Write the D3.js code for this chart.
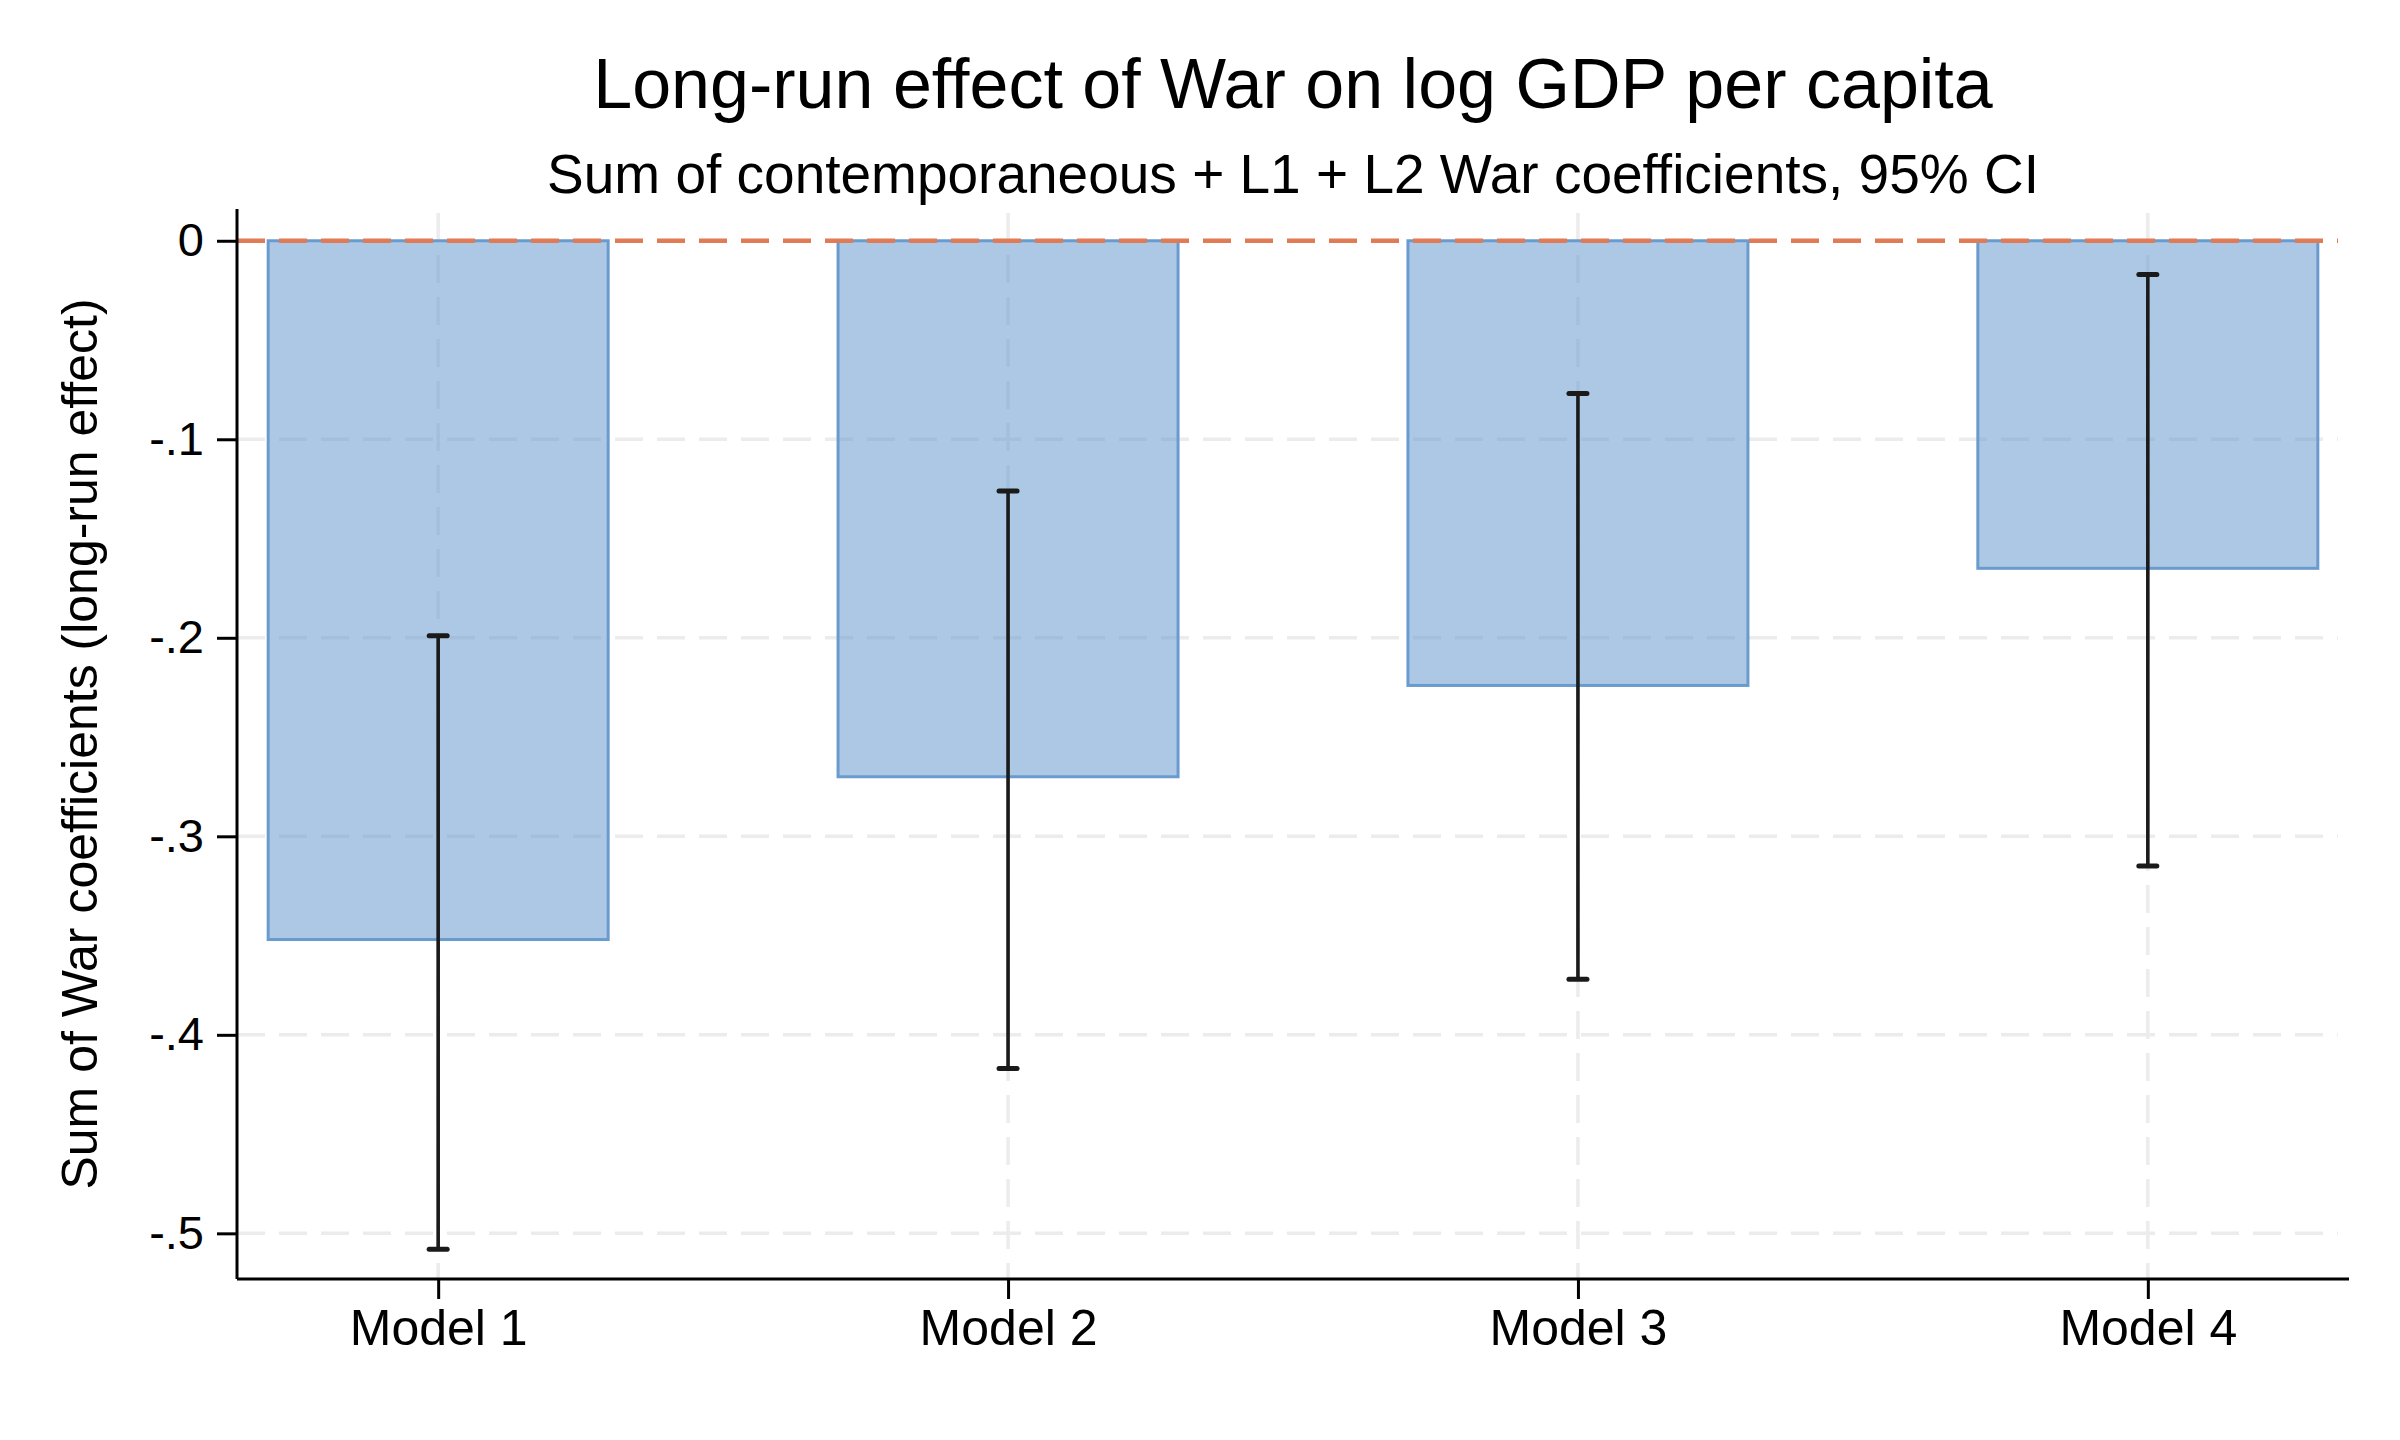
<!DOCTYPE html>
<html>
<head>
<meta charset="utf-8">
<script src="https://cdn.jsdelivr.net/npm/d3@7"></script>
<style>
  html, body { margin: 0; padding: 0; background: #ffffff; }
  text { font-family: "Liberation Sans", Arial, Helvetica, sans-serif; fill: #000000; }
</style>
</head>
<body>
<div id="chart"></div>
<script>
// chart data
const models = ["Model 1", "Model 2", "Model 3", "Model 4"];
const coefs = [-0.352, -0.270, -0.224, -0.165];
const ciLow = [-0.508, -0.417, -0.372, -0.315];
const ciHigh = [-0.199, -0.126, -0.077, -0.017];
const yTicks = [0, -0.1, -0.2, -0.3, -0.4, -0.5];

const titleText = "Long-run effect of War on log GDP per capita";
const subtitleText = "Sum of contemporaneous + L1 + L2 War coefficients, 95% CI";
const yLabelText = "Sum of War coefficients (long-run effect)";

const width = 2400, height = 1440;
const margin = { top: 209, right: 51, bottom: 161, left: 237 };
const plotW = width - margin.left - margin.right;
const plotH = height - margin.top - margin.bottom;

const svg = d3.select("#chart")
    .append("svg")
    .attr("width", width)
    .attr("height", height);

const g = svg.append("g")
    .attr("transform", `translate(${margin.left},${margin.top})`);

const x = d3.scalePoint()
    .domain(models)
    .range([0, plotW])
    .padding(0.353);

const y = d3.scaleLinear()
    .domain([-0.523, 0.016])
    .range([plotH, 0]);

const barW = 340;
const gridEnd = plotW - 11;

// gridlines (behind bars)
g.append("g").selectAll("line.hgrid")
    .data(yTicks.filter(d => d !== 0))
    .join("line")
    .attr("x1", 0)
    .attr("x2", gridEnd)
    .attr("y1", d => y(d))
    .attr("y2", d => y(d))
    .attr("stroke", "#ececec")
    .attr("stroke-width", 3.5)
    .attr("stroke-dasharray", "28,14");

g.append("g").selectAll("line.vgrid")
    .data(models)
    .join("line")
    .attr("x1", d => x(d))
    .attr("x2", d => x(d))
    .attr("y1", 4)
    .attr("y2", plotH)
    .attr("stroke", "#ececec")
    .attr("stroke-width", 3.5)
    .attr("stroke-dasharray", "28,14");

// bars
g.append("g").selectAll("rect")
    .data(models)
    .join("rect")
    .attr("x", d => x(d) - barW / 2)
    .attr("width", barW)
    .attr("y", (d, i) => y(Math.max(0, coefs[i])))
    .attr("height", (d, i) => Math.abs(y(coefs[i]) - y(0)))
    .attr("fill", "rgba(106,155,207,0.55)")
    .attr("stroke", "#6a9bcf")
    .attr("stroke-width", 3);

// zero reference line
g.append("line")
    .attr("x1", 0)
    .attr("x2", gridEnd)
    .attr("y1", y(0))
    .attr("y2", y(0))
    .attr("stroke", "#e07b56")
    .attr("stroke-width", 4.5)
    .attr("stroke-dasharray", "28,14");

// error bars
const eb = g.append("g")
    .attr("stroke", "#1a1a1a")
    .attr("stroke-width", 3.6)
    .attr("stroke-linecap", "round");

eb.selectAll("line.stem")
    .data(models)
    .join("line")
    .attr("x1", d => x(d))
    .attr("x2", d => x(d))
    .attr("y1", (d, i) => y(ciHigh[i]))
    .attr("y2", (d, i) => y(ciLow[i]));

const capW = 18;
[ciLow, ciHigh].forEach(arr => {
    eb.append("g").selectAll("line")
        .data(models)
        .join("line")
        .attr("x1", d => x(d) - capW / 2)
        .attr("x2", d => x(d) + capW / 2)
        .attr("y1", (d, i) => y(arr[i]))
        .attr("y2", (d, i) => y(arr[i]))
        .attr("stroke-width", 5);
});

// axes
const fmt = d => d === 0 ? "0" : "-" + d3.format(".1f")(Math.abs(d)).replace(/^0/, "");

const yAxis = g.append("g")
    .call(d3.axisLeft(y).tickValues(yTicks).tickFormat(fmt).tickSize(20).tickPadding(13));

const xAxis = g.append("g")
    .attr("transform", `translate(0,${plotH})`)
    .call(d3.axisBottom(x).tickSize(20).tickPadding(10));

[yAxis, xAxis].forEach(ax => {
    ax.select(".domain").attr("stroke", "#000").attr("stroke-width", 3);
    ax.selectAll(".tick line").attr("stroke", "#000").attr("stroke-width", 3);
    ax.selectAll(".tick text")
        .attr("font-size", 47)
        .style("font-family", "'Liberation Sans', Arial, Helvetica, sans-serif")
        .attr("fill", "#000");
});
xAxis.selectAll(".tick text").attr("font-size", 50);
yAxis.select(".domain").attr("d", `M0,0V${plotH}`);
xAxis.select(".domain").attr("d", `M0,0H${plotW}`);

// titles
const cx = margin.left + plotW / 2;
svg.append("text")
    .attr("x", cx)
    .attr("y", 108)
    .attr("text-anchor", "middle")
    .attr("font-size", 70)
    .text(titleText);

svg.append("text")
    .attr("x", cx)
    .attr("y", 193)
    .attr("text-anchor", "middle")
    .attr("font-size", 55)
    .text(subtitleText);

svg.append("text")
    .attr("transform", `translate(97,${margin.top + plotH / 2}) rotate(-90)`)
    .attr("text-anchor", "middle")
    .attr("font-size", 50)
    .text(yLabelText);
</script>
</body>
</html>
